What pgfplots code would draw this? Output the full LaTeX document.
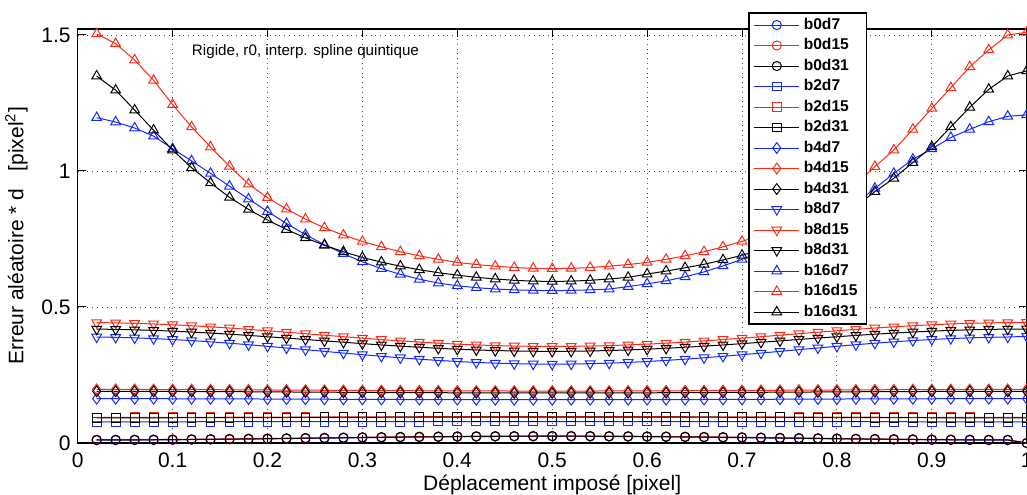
\documentclass[border=0pt]{standalone}
\usepackage{fontspec}
\setmainfont{Liberation Sans}
\usepackage{pgfplots}
\usepackage{pgfplotstable}
\pgfplotsset{compat=1.18}
\definecolor{mblue}{RGB}{20,40,255}
\definecolor{mred}{RGB}{255,40,20}

\pgfplotstableread{
x d7 d15 d31
0.02 .0105 .0119 .0111
0.04 .0106 .0120 .0112
0.06 .0109 .0123 .0115
0.08 .0113 .0127 .0119
0.10 .0117 .0131 .0123
0.12 .0123 .0137 .0129
0.14 .0129 .0143 .0135
0.16 .0137 .0151 .0143
0.18 .0144 .0158 .0150
0.20 .0152 .0166 .0158
0.22 .0161 .0175 .0167
0.24 .0170 .0184 .0176
0.26 .0178 .0192 .0184
0.28 .0187 .0201 .0193
0.30 .0196 .0210 .0202
0.32 .0204 .0218 .0210
0.34 .0212 .0226 .0218
0.36 .0219 .0233 .0225
0.38 .0225 .0239 .0231
0.40 .0231 .0245 .0237
0.42 .0235 .0249 .0241
0.44 .0239 .0253 .0245
0.46 .0242 .0256 .0248
0.48 .0243 .0257 .0249
0.50 .0244 .0258 .0250
0.52 .0243 .0257 .0249
0.54 .0242 .0256 .0248
0.56 .0239 .0253 .0245
0.58 .0235 .0249 .0241
0.60 .0231 .0245 .0237
0.62 .0225 .0239 .0231
0.64 .0219 .0233 .0225
0.66 .0212 .0226 .0218
0.68 .0204 .0218 .0210
0.70 .0196 .0210 .0202
0.72 .0187 .0201 .0193
0.74 .0178 .0192 .0184
0.76 .0170 .0184 .0176
0.78 .0161 .0175 .0167
0.80 .0152 .0166 .0158
0.82 .0144 .0158 .0150
0.84 .0137 .0151 .0143
0.86 .0129 .0143 .0135
0.88 .0123 .0137 .0129
0.90 .0117 .0131 .0123
0.92 .0113 .0127 .0119
0.94 .0109 .0123 .0115
0.96 .0106 .0120 .0112
0.98 .0105 .0119 .0111
1.00 0 0 0
}\tbzero

\pgfplotstableread{
x d7 d15 d31
0.02 .0780 .0940 .0925
0.04 .0780 .0940 .0925
0.06 .0780 .0941 .0926
0.08 .0780 .0942 .0927
0.10 .0780 .0943 .0928
0.12 .0780 .0944 .0929
0.14 .0783 .0945 .0930
0.16 .0783 .0947 .0932
0.18 .0783 .0949 .0934
0.20 .0783 .0950 .0935
0.22 .0783 .0952 .0937
0.24 .0783 .0954 .0939
0.26 .0786 .0956 .0941
0.28 .0786 .0958 .0943
0.30 .0786 .0960 .0945
0.32 .0786 .0961 .0946
0.34 .0786 .0963 .0948
0.36 .0786 .0965 .0950
0.38 .0788 .0966 .0951
0.40 .0788 .0967 .0952
0.42 .0788 .0968 .0953
0.44 .0788 .0969 .0954
0.46 .0788 .0970 .0955
0.48 .0788 .0970 .0955
0.50 .0788 .0970 .0955
0.52 .0788 .0970 .0955
0.54 .0788 .0970 .0955
0.56 .0788 .0969 .0954
0.58 .0788 .0968 .0953
0.60 .0788 .0967 .0952
0.62 .0788 .0966 .0951
0.64 .0786 .0965 .0950
0.66 .0786 .0963 .0948
0.68 .0786 .0961 .0946
0.70 .0786 .0960 .0945
0.72 .0786 .0958 .0943
0.74 .0786 .0956 .0941
0.76 .0783 .0954 .0939
0.78 .0783 .0952 .0937
0.80 .0783 .0950 .0935
0.82 .0783 .0949 .0934
0.84 .0783 .0947 .0932
0.86 .0783 .0945 .0930
0.88 .0780 .0944 .0929
0.90 .0780 .0943 .0928
0.92 .0780 .0942 .0927
0.94 .0780 .0941 .0926
0.96 .0780 .0940 .0925
0.98 .0780 .0940 .0925
1.00 .0780 .0940 .0925
}\tbtwo

\pgfplotstableread{
x d7 d15 d31
0.02 .1630 .1970 .1900
0.04 .1629 .1969 .1899
0.06 .1629 .1968 .1898
0.08 .1628 .1966 .1896
0.10 .1626 .1964 .1894
0.12 .1625 .1962 .1892
0.14 .1623 .1959 .1889
0.16 .1621 .1956 .1886
0.18 .1619 .1953 .1883
0.20 .1616 .1949 .1879
0.22 .1614 .1946 .1876
0.24 .1611 .1942 .1872
0.26 .1609 .1938 .1868
0.28 .1606 .1934 .1864
0.30 .1604 .1931 .1861
0.32 .1601 .1927 .1857
0.34 .1599 .1924 .1854
0.36 .1597 .1921 .1851
0.38 .1595 .1918 .1848
0.40 .1594 .1916 .1846
0.42 .1592 .1914 .1844
0.44 .1591 .1912 .1842
0.46 .1591 .1911 .1841
0.48 .1590 .1910 .1840
0.50 .1590 .1910 .1840
0.52 .1590 .1910 .1840
0.54 .1591 .1911 .1841
0.56 .1591 .1912 .1842
0.58 .1592 .1914 .1844
0.60 .1594 .1916 .1846
0.62 .1595 .1918 .1848
0.64 .1597 .1921 .1851
0.66 .1599 .1924 .1854
0.68 .1601 .1927 .1857
0.70 .1604 .1931 .1861
0.72 .1606 .1934 .1864
0.74 .1609 .1938 .1868
0.76 .1611 .1942 .1872
0.78 .1614 .1946 .1876
0.80 .1616 .1949 .1879
0.82 .1619 .1953 .1883
0.84 .1621 .1956 .1886
0.86 .1623 .1959 .1889
0.88 .1625 .1962 .1892
0.90 .1626 .1964 .1894
0.92 .1628 .1966 .1896
0.94 .1629 .1968 .1898
0.96 .1629 .1969 .1899
0.98 .1630 .1970 .1900
1.00 .1630 .1970 .1900
}\tbfour

\pgfplotstableread{
x d7 d15 d31
0.02 .3896 .4427 .4187
0.04 .3884 .4416 .4177
0.06 .3865 .4399 .4161
0.08 .3838 .4376 .4139
0.10 .3805 .4346 .4112
0.12 .3765 .4311 .4079
0.14 .3719 .4270 .4041
0.16 .3668 .4226 .4000
0.18 .3613 .4177 .3955
0.20 .3555 .4126 .3907
0.22 .3494 .4072 .3857
0.24 .3431 .4018 .3806
0.26 .3369 .3962 .3754
0.28 .3306 .3908 .3703
0.30 .3246 .3854 .3653
0.32 .3187 .3803 .3605
0.34 .3132 .3754 .3560
0.36 .3081 .3710 .3519
0.38 .3036 .3669 .3481
0.40 .2996 .3634 .3448
0.42 .2962 .3604 .3421
0.44 .2935 .3581 .3399
0.46 .2916 .3564 .3383
0.48 .2904 .3553 .3373
0.50 .2900 .3550 .3370
0.52 .2904 .3553 .3373
0.54 .2916 .3564 .3383
0.56 .2935 .3581 .3399
0.58 .2962 .3604 .3421
0.60 .2996 .3634 .3448
0.62 .3036 .3669 .3481
0.64 .3081 .3710 .3519
0.66 .3132 .3754 .3560
0.68 .3187 .3803 .3605
0.70 .3246 .3854 .3653
0.72 .3306 .3908 .3703
0.74 .3369 .3962 .3754
0.76 .3431 .4018 .3806
0.78 .3494 .4072 .3857
0.80 .3555 .4126 .3907
0.82 .3613 .4177 .3955
0.84 .3668 .4226 .4000
0.86 .3719 .4270 .4041
0.88 .3765 .4311 .4079
0.90 .3805 .4346 .4112
0.92 .3838 .4376 .4139
0.94 .3865 .4399 .4161
0.96 .3884 .4416 .4177
0.98 .3896 .4427 .4187
1.00 .3920 .4430 .4190
}\tbeight

\pgfplotstableread{
x d7 d15 d31
0.02 1.196 1.504 1.349
0.04 1.180 1.468 1.297
0.06 1.158 1.408 1.224
0.08 1.128 1.333 1.150
0.10 1.082 1.244 1.077
0.12 1.037 1.162 1.012
0.14 0.991 1.088 0.956
0.16 0.944 1.017 0.903
0.18 0.897 0.952 0.859
0.20 0.851 0.902 0.820
0.22 0.807 0.860 0.785
0.24 0.766 0.823 0.754
0.26 0.729 0.791 0.727
0.28 0.696 0.764 0.703
0.30 0.666 0.741 0.682
0.32 0.641 0.721 0.665
0.34 0.620 0.703 0.650
0.36 0.602 0.688 0.637
0.38 0.588 0.675 0.626
0.40 0.578 0.664 0.617
0.42 0.571 0.656 0.609
0.44 0.566 0.650 0.603
0.46 0.563 0.645 0.598
0.48 0.561 0.642 0.595
0.50 0.560 0.641 0.594
0.52 0.561 0.642 0.595
0.54 0.563 0.645 0.598
0.56 0.566 0.650 0.603
0.58 0.575 0.656 0.609
0.60 0.585 0.664 0.621
0.62 0.596 0.675 0.632
0.64 0.611 0.688 0.644
0.66 0.629 0.703 0.657
0.68 0.651 0.721 0.673
0.70 0.675 0.741 0.690
0.72 0.702 0.764 0.711
0.74 0.733 0.791 0.735
0.76 0.766 0.823 0.762
0.78 0.802 0.860 0.793
0.80 0.840 0.902 0.828
0.82 0.880 0.952 0.870
0.84 0.936 1.016 0.924
0.86 0.991 1.077 0.973
0.88 1.043 1.153 1.031
0.90 1.081 1.230 1.089
0.92 1.123 1.306 1.162
0.94 1.153 1.383 1.234
0.96 1.181 1.445 1.300
0.98 1.201 1.500 1.349
1.00 1.206 1.510 1.368
}\tbsixteen

\begin{document}
\begin{tikzpicture}
\begin{axis}[
  scale only axis, width=474.5pt, height=207pt,
  xmin=0, xmax=1, ymin=0, ymax=1.522,
  clip=false,
  xtick={0,0.1,0.2,0.3,0.4,0.5,0.6,0.7,0.8,0.9,1},
  ytick={0,0.5,1,1.5},
  grid=major,
  major grid style={dotted, black!70, line width=0.45pt},
  tick align=inside, major tick length=4pt,
  axis line style={black, line width=0.55pt},
  every tick/.style={black, line width=0.5pt},
  tick label style={font=\fontsize{10.5}{12}\selectfont},
  xticklabel style={yshift=-1.5pt},
  /pgf/number format/assume math mode=true,
  xlabel={Déplacement imposé [pixel]},
  ylabel={Erreur aléatoire * d\ \ \ [pixel\textsuperscript{2}]},
  label style={font=\fontsize{10.5}{12}\selectfont},
  xlabel style={yshift=3.5pt},
  legend style={at={(0.7063,1.0411)}, anchor=north west, draw=black,
    line width=0.8pt, fill=white,
    font=\fontsize{7.8}{8.5}\selectfont\bfseries,
    row sep=0pt, inner xsep=2.5pt, inner ysep=1pt,
    nodes={inner ysep=1.575pt, text height=5.6pt, text depth=1.5pt}},
  legend image code/.code={\draw[mark repeat=2,mark phase=2] plot coordinates {(0pt,0pt) (11.25pt,0pt) (22.5pt,0pt)};},
  legend cell align=left,
]
\addplot[mblue, line width=0.5pt, mark=o, mark size=2.3pt] table[x=x,y=d7]{\tbzero};
\addlegendentry{b0d7}
\addplot[mred, line width=0.5pt, mark=o, mark size=2.3pt] table[x=x,y=d15]{\tbzero};
\addlegendentry{b0d15}
\addplot[black, line width=0.5pt, mark=o, mark size=2.3pt] table[x=x,y=d31]{\tbzero};
\addlegendentry{b0d31}
\addplot[mblue, line width=0.5pt, mark=square, mark size=2.2pt] table[x=x,y=d7]{\tbtwo};
\addlegendentry{b2d7}
\addplot[mred, line width=0.5pt, mark=square, mark size=2.2pt] table[x=x,y=d15]{\tbtwo};
\addlegendentry{b2d15}
\addplot[black, line width=0.5pt, mark=square, mark size=2.2pt] table[x=x,y=d31]{\tbtwo};
\addlegendentry{b2d31}
\addplot[mblue, line width=0.5pt, mark=diamond, mark size=2.7pt] table[x=x,y=d7]{\tbfour};
\addlegendentry{b4d7}
\addplot[mred, line width=0.5pt, mark=diamond, mark size=2.7pt] table[x=x,y=d15]{\tbfour};
\addlegendentry{b4d15}
\addplot[black, line width=0.5pt, mark=diamond, mark size=2.7pt] table[x=x,y=d31]{\tbfour};
\addlegendentry{b4d31}
\addplot[mblue, line width=0.5pt, mark=triangle, mark size=2.8pt, mark options={rotate=180}] table[x=x,y=d7]{\tbeight};
\addlegendentry{b8d7}
\addplot[mred, line width=0.5pt, mark=triangle, mark size=2.8pt, mark options={rotate=180}] table[x=x,y=d15]{\tbeight};
\addlegendentry{b8d15}
\addplot[black, line width=0.5pt, mark=triangle, mark size=2.8pt, mark options={rotate=180}] table[x=x,y=d31]{\tbeight};
\addlegendentry{b8d31}
\addplot[mblue, line width=0.5pt, mark=triangle, mark size=2.8pt] table[x=x,y=d7]{\tbsixteen};
\addlegendentry{b16d7}
\addplot[mred, line width=0.5pt, mark=triangle, mark size=2.8pt] table[x=x,y=d15]{\tbsixteen};
\addlegendentry{b16d15}
\addplot[black, line width=0.5pt, mark=triangle, mark size=2.8pt] table[x=x,y=d31]{\tbsixteen};
\addlegendentry{b16d31}
\node[anchor=west, font=\fontsize{7.6}{9}\selectfont, inner sep=0pt] at (axis cs:0.12,1.4375) {Rigide, r0, interp. spline quintique};
\end{axis}
\pgfresetboundingbox
\path[use as bounding box] ([xshift=-38.85pt,yshift=-26pt]current axis.south west) rectangle ([xshift=0.15pt,yshift=14.5pt]current axis.north east);
\end{tikzpicture}
\end{document}
